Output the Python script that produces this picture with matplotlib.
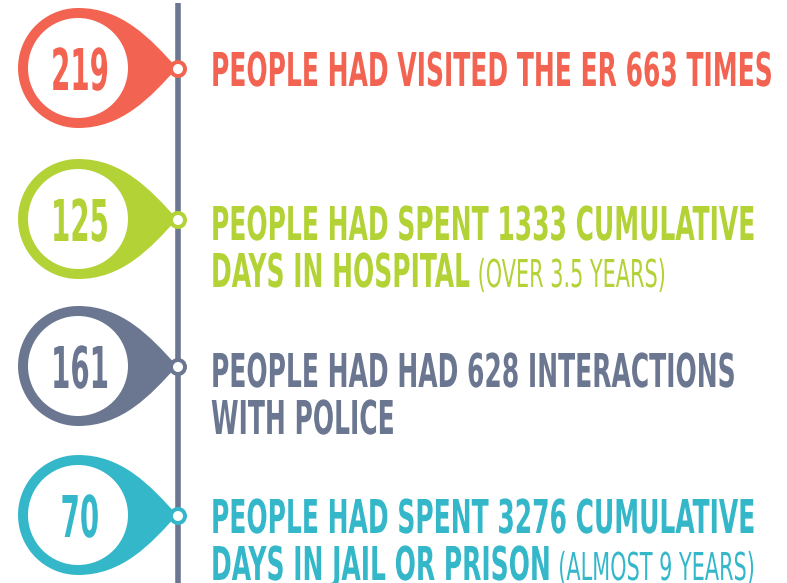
import numpy as np
import matplotlib
matplotlib.use("Agg")
import matplotlib.pyplot as plt
from matplotlib import patheffects
from matplotlib.path import Path
from matplotlib.patches import PathPatch, Circle
from matplotlib.transforms import Affine2D

counts = [219, 125, 161, 70]
first_lines = [
    "PEOPLE HAD VISITED THE ER 663 TIMES",
    "PEOPLE HAD SPENT 1333 CUMULATIVE",
    "PEOPLE HAD HAD 628 INTERACTIONS",
    "PEOPLE HAD SPENT 3276 CUMULATIVE",
]
second_lines = ["", "DAYS IN HOSPITAL", "WITH POLICE", "DAYS IN JAIL OR PRISON"]
notes = ["", "(OVER 3.5 YEARS)", "", "(ALMOST 9 YEARS)"]
colors = ["#F26451", "#B2D235", "#6B7690", "#35B7CA"]
line_color = "#6B7690"

W, H = 787, 583
FAM, STRETCH = "DejaVu Sans", "condensed"
CAP = 0.729  # cap height / em for DejaVu Sans


class Tall(patheffects.AbstractPathEffect):
    """Stretch glyph outlines vertically around the baseline (condensed look)."""

    def __init__(self, sy):
        super().__init__()
        self.sy = sy

    def draw_path(self, renderer, gc, tpath, affine, rgbFace=None):
        renderer.draw_path(gc, tpath, Affine2D().scale(1, self.sy) + affine, rgbFace)


fig = plt.figure(figsize=(W / 100, H / 100), dpi=100)
ax = fig.add_axes([0, 0, 1, 1])
ax.set_xlim(0, W)
ax.set_ylim(H, 0)
ax.axis("off")
renderer = fig.canvas.get_renderer()


def natural_width(s, fs, weight):
    t = ax.text(0, 0, s, fontsize=fs, family=FAM, fontstretch=STRETCH,
                fontweight=weight)
    w = t.get_window_extent(renderer).width
    t.remove()
    return w


def fit(s, width, cap, weight):
    """font size giving the wanted width, and vertical stretch giving the cap height"""
    fs = 20 * width / natural_width(s, 20, weight)
    sy = cap / (fs / 0.72 * CAP)
    return fs, sy


# timeline
ax.plot([178, 178], [3, H], color=line_color, lw=4, solid_capstyle="butt", zorder=1)

cx, R, r_in = 78, 60, 50
tip_x = 177
centers = [68, 219, 366, 515]
baselines = [86, 240, 387, 533]


def drop_path(cx, cy):
    verts = [(cx, cy - R),
             (cx + 44, cy - R), (150, cy - 30), (tip_x, cy),
             (150, cy + 30), (cx + 44, cy + R), (cx, cy + R)]
    codes = [Path.MOVETO] + [Path.CURVE4] * 6
    ang = np.linspace(np.pi / 2, 3 * np.pi / 2, 40)
    for a in ang[1:]:
        verts.append((cx + R * np.cos(a), cy + R * np.sin(a)))
        codes.append(Path.LINETO)
    verts.append((cx, cy - R))
    codes.append(Path.CLOSEPOLY)
    return Path(verts, codes)


main_fs, main_sy = fit(first_lines[0], 560, 34, "bold")
num_fs, num_sy = fit("219", 58, 42, "bold")
note_fs, note_sy = fit(notes[1], 188, 28, "normal")

for i, cy in enumerate(centers):
    c = colors[i]
    ax.add_patch(PathPatch(drop_path(cx, cy), fc=c, ec="none", zorder=2))
    ax.add_patch(Circle((cx, cy), r_in, fc="white", ec="none", zorder=3))
    ax.add_patch(Circle((178, cy + 1), 9, fc=c, ec="none", zorder=3))
    ax.add_patch(Circle((178, cy + 1), 5, fc="white", ec="none", zorder=4))

    ax.text(80, cy + 22, str(counts[i]), color=c, fontsize=num_fs, family=FAM,
            fontstretch=STRETCH, fontweight="bold", ha="center", va="baseline",
            zorder=5, path_effects=[Tall(num_sy)])

    base = baselines[i]
    ax.text(211, base, first_lines[i], color=c, fontsize=main_fs, family=FAM,
            fontstretch=STRETCH, fontweight="bold", va="baseline",
            path_effects=[Tall(main_sy)])
    if second_lines[i]:
        ax.text(211, base + 47, second_lines[i], color=c, fontsize=main_fs,
                family=FAM, fontstretch=STRETCH, fontweight="bold",
                va="baseline", path_effects=[Tall(main_sy)])
        if notes[i]:
            x1 = 211 + natural_width(second_lines[i], main_fs, "bold")
            ax.text(x1 + 8, base + 47, notes[i], color=c, fontsize=note_fs,
                    family=FAM, fontstretch=STRETCH, fontweight="normal",
                    va="baseline", path_effects=[Tall(note_sy)])

fig.savefig("out.png", dpi=100)
